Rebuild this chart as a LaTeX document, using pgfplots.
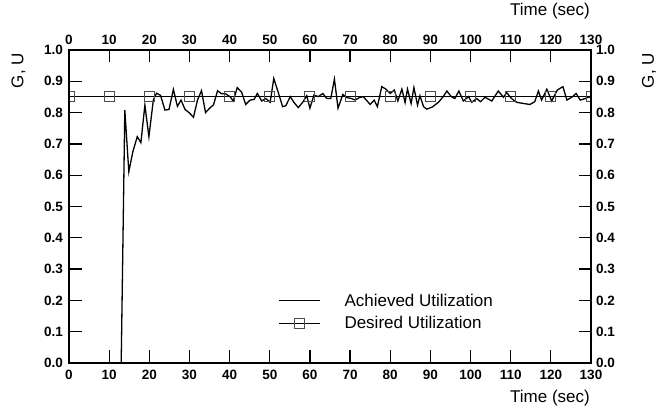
\documentclass[border=0pt]{standalone}
\usepackage{pgfplots}
\pgfplotsset{compat=1.18}
\usepackage{fontspec}
\setmainfont{Liberation Sans}

\pgfplotsset{
  gu frame/.style={
    scale only axis, width=522pt, height=313pt,
    xmin=0, xmax=130, ymin=0, ymax=1,
    xtick={0,10,20,30,40,50,60,70,80,90,100,110,120,130},
    ytick={0,0.1,0.2,0.3,0.4,0.5,0.6,0.7,0.8,0.9,1.0},
    tick align=inside, major tick length=12.5pt,
    axis line style={line width=1.9pt},
    every tick/.style={black, line width=1.3pt},
    /pgf/number format/assume math mode=true,
    ticklabel style={font=\fontsize{13.5}{15}\selectfont\bfseries},
    yticklabel style={/pgf/number format/fixed,
      /pgf/number format/fixed zerofill, /pgf/number format/precision=1},
    xticklabel style={/pgf/number format/fixed},
  },
}

\begin{document}
\begin{tikzpicture}
\begin{axis}[
  gu frame, name=main,
  xticklabel pos=lower, yticklabel pos=left,
  xticklabel style={yshift=-3.7pt},
  yticklabel style={xshift=-2.5pt},
  clip marker paths=true,
  legend style={draw=none, fill=none, inner sep=0pt,
    at={(axis description cs:0.4004,0.228)}, anchor=north west,
    font=\fontsize{17}{20}\selectfont, row sep=5pt,
    /tikz/every odd column/.append style={column sep=22pt}},
  legend cell align=left,
  legend image code/.code={\draw[mark repeat=2,mark phase=2,#1]
    plot coordinates {(0pt,0pt)(20.5pt,0pt)(41pt,0pt)};},
]
% achieved utilization
\addplot[black, line width=1.3pt, mark=none] coordinates {
(0,0)(13,0)(13.9,0.808)(14.9,0.611)(15.9,0.675)(17,0.723)(17.9,0.704)(18.9,0.824)(19.9,0.723)
(21,0.84)(21.8,0.862)(22.8,0.855)(23.9,0.808)(24.9,0.81)(26,0.874)(27,0.82)(27.9,0.84)(28.9,0.81)
(29.9,0.80)(31,0.785)(32,0.84)(33,0.87)(34,0.80)(35.1,0.815)(36,0.825)(37,0.87)(38,0.86)(39,0.86)
(40.1,0.851)(40.9,0.837)(41.9,0.880)(43,0.865)(44,0.826)(45.1,0.840)(46.1,0.842)(46.9,0.861)
(48,0.837)(49,0.845)(50.1,0.833)(51,0.909)(52.1,0.865)(53.2,0.819)(54,0.822)(55.1,0.851)(56,0.833)
(57.1,0.816)(58.2,0.833)(59.2,0.854)(60,0.814)(61,0.856)(62.1,0.851)(63.2,0.861)(64.2,0.845)
(65.2,0.845)(66.1,0.907)(67,0.814)(68.2,0.858)(69.2,0.848)(70.3,0.845)(71.3,0.84)(72.3,0.848)
(73.3,0.851)(75,0.826)(76,0.840)(76.8,0.819)(77.9,0.883)(78.9,0.875)(80,0.861)(81,0.872)
(81.9,0.837)(82.9,0.875)(83.7,0.832)(84.3,0.875)(85.2,0.829)(85.9,0.880)(86.8,0.824)(87.4,0.854)
(88.3,0.819)(89.1,0.811)(90.5,0.818)(92,0.833)(93.2,0.851)(94.1,0.869)(95.2,0.851)(96.1,0.845)
(97.1,0.869)(98.2,0.837)(99.5,0.851)(100.3,0.833)(101.5,0.845)(102.5,0.835)(103.6,0.849)
(105.3,0.837)(106.9,0.869)(108.2,0.849)(109,0.864)(110.2,0.845)(111.5,0.833)(113.2,0.829)
(114.8,0.826)(116,0.835)(116.9,0.869)(117.7,0.840)(119,0.875)(120.2,0.837)(121.6,0.872)
(123,0.883)(124,0.840)(125.2,0.849)(126.3,0.861)(127.3,0.840)(128.6,0.845)(129.6,0.851)(130,0.845)
};
\addlegendentry{Achieved Utilization}
% desired utilization
\addplot[black, line width=0.9pt, mark=square, mark size=5pt,
  mark options={draw=black!70, solid, line width=0.9pt}] coordinates {
(0,0.85)(10,0.85)(20,0.85)(30,0.85)(40,0.85)(50,0.85)(60,0.85)
(70,0.85)(80,0.85)(90,0.85)(100,0.85)(110,0.85)(120,0.85)(130,0.85)
};
\addlegendentry{Desired Utilization}
\end{axis}
\begin{axis}[
  gu frame,
  xticklabel pos=upper, yticklabel pos=right,
  xticklabel style={yshift=1.5pt},
  yticklabel style={xshift=1.5pt},
]
\end{axis}
\begin{scope}[every node/.style={font=\fontsize{17}{20}\selectfont, inner sep=0pt}]
\node[anchor=north east] at ([xshift=-1pt,yshift=-27pt]main.south east) {Time (sec)};
\node[anchor=south east] at ([xshift=-1pt,yshift=31pt]main.north east) {Time (sec)};
\node[rotate=90, anchor=east] at ([xshift=-50.5pt,yshift=-3pt]main.north west) {G, U};
\node[rotate=90, anchor=east] at ([xshift=58pt,yshift=-3pt]main.north east) {G, U};
\end{scope}
\path ([shift={(-69pt,-43pt)}]main.south west) rectangle ([shift={(79pt,50pt)}]main.north east);
\end{tikzpicture}
\end{document}
